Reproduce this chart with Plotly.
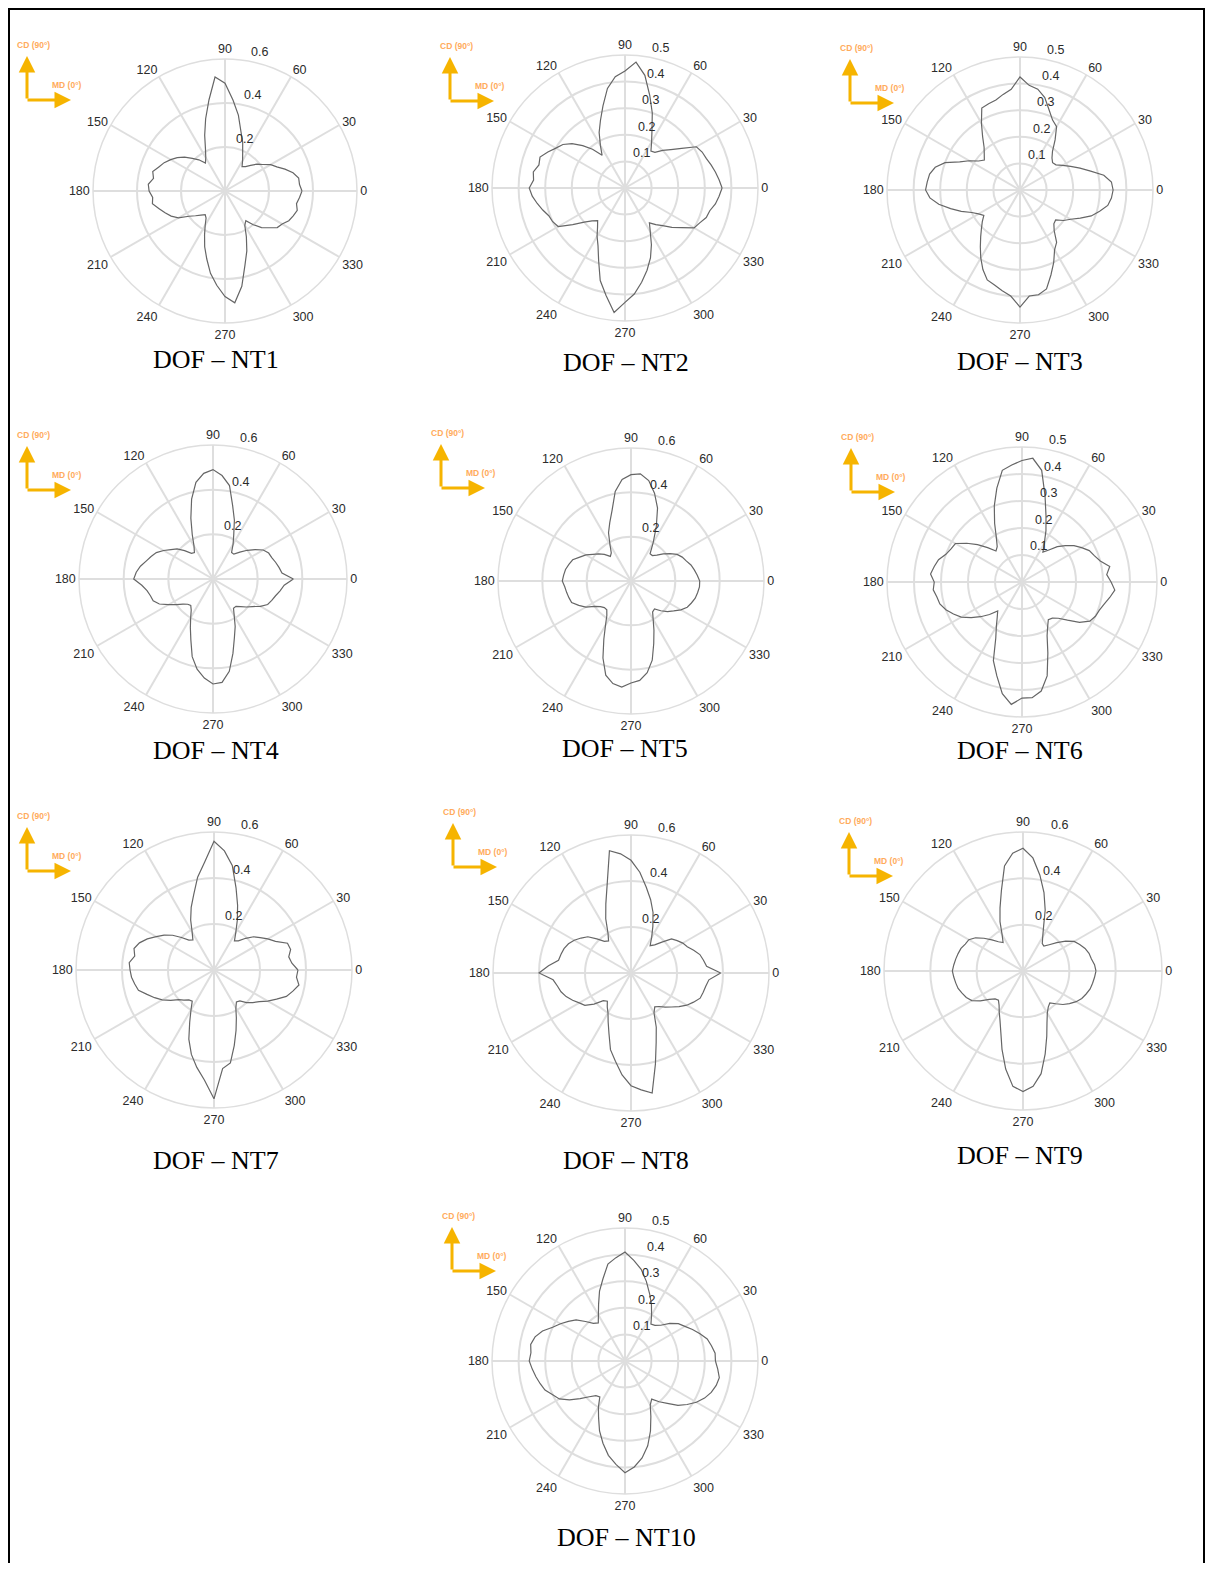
import math
import plotly.graph_objects as go

# the browser page keeps an 8px body margin, so the figure is drawn 16px smaller
W, H = 1197, 1555
OFF = 8

# angle of every reading, degrees (0 = MD, 90 = CD)
theta = list(range(0, 360, 5))

nt1 = [0.35, 0.34, 0.34, 0.32, 0.29, 0.26, 0.24, 0.21, 0.19, 0.165, 0.145, 0.135,
       0.16, 0.19, 0.235, 0.28, 0.35, 0.415, 0.49, 0.52, 0.42, 0.34, 0.27, 0.21,
       0.175, 0.155, 0.185, 0.21, 0.24, 0.265, 0.285, 0.305, 0.32, 0.34, 0.33, 0.35,
       0.345, 0.33, 0.335, 0.31, 0.29, 0.27, 0.245, 0.2, 0.175, 0.155, 0.14, 0.15,
       0.18, 0.22, 0.27, 0.32, 0.38, 0.43, 0.48, 0.51, 0.44, 0.35, 0.29, 0.23,
       0.18, 0.165, 0.2, 0.235, 0.26, 0.29, 0.3, 0.32, 0.33, 0.34, 0.33, 0.34]
nt2 = [0.365, 0.355, 0.345, 0.335, 0.325, 0.32, 0.31, 0.26, 0.225, 0.2, 0.175, 0.17,
       0.2, 0.24, 0.3, 0.36, 0.43, 0.475, 0.44, 0.42, 0.38, 0.32, 0.27, 0.23,
       0.185, 0.15, 0.19, 0.225, 0.26, 0.285, 0.3, 0.32, 0.34, 0.335, 0.35, 0.345,
       0.36, 0.35, 0.335, 0.32, 0.305, 0.3, 0.29, 0.24, 0.2, 0.175, 0.16, 0.18,
       0.21, 0.24, 0.29, 0.36, 0.41, 0.47, 0.43, 0.4, 0.36, 0.32, 0.28, 0.235,
       0.19, 0.16, 0.18, 0.2, 0.23, 0.26, 0.3, 0.31, 0.325, 0.33, 0.345, 0.355]
nt3 = [0.35, 0.345, 0.32, 0.275, 0.24, 0.21, 0.185, 0.165, 0.16, 0.17, 0.19, 0.23,
       0.275, 0.29, 0.32, 0.36, 0.385, 0.395, 0.425, 0.38, 0.365, 0.35, 0.345, 0.34,
       0.29, 0.245, 0.21, 0.19, 0.175, 0.19, 0.22, 0.25, 0.3, 0.33, 0.345, 0.35,
       0.355, 0.34, 0.31, 0.27, 0.235, 0.2, 0.18, 0.166, 0.185, 0.205, 0.23, 0.26,
       0.295, 0.33, 0.36, 0.37, 0.385, 0.4, 0.44, 0.4, 0.4, 0.385, 0.34, 0.3,
       0.26, 0.24, 0.2, 0.18, 0.175, 0.2, 0.22, 0.25, 0.285, 0.31, 0.335, 0.345]
nt4 = [0.36, 0.31, 0.3, 0.29, 0.28, 0.275, 0.26, 0.23, 0.2, 0.17, 0.145, 0.145,
       0.18, 0.22, 0.28, 0.34, 0.425, 0.465, 0.49, 0.475, 0.44, 0.37, 0.29, 0.22,
       0.17, 0.145, 0.15, 0.18, 0.21, 0.23, 0.255, 0.28, 0.295, 0.31, 0.33, 0.345,
       0.355, 0.32, 0.3, 0.29, 0.285, 0.265, 0.23, 0.2, 0.175, 0.16, 0.155, 0.17,
       0.2, 0.24, 0.29, 0.36, 0.41, 0.445, 0.47, 0.465, 0.42, 0.345, 0.28, 0.235,
       0.19, 0.16, 0.16, 0.175, 0.195, 0.215, 0.245, 0.27, 0.28, 0.29, 0.305, 0.32]
nt5 = [0.31, 0.3, 0.29, 0.28, 0.265, 0.255, 0.24, 0.215, 0.19, 0.165, 0.15, 0.15,
       0.2, 0.27, 0.35, 0.41, 0.46, 0.485, 0.48, 0.46, 0.41, 0.33, 0.28, 0.24,
       0.19, 0.155, 0.145, 0.17, 0.19, 0.21, 0.235, 0.255, 0.28, 0.29, 0.3, 0.305,
       0.31, 0.3, 0.295, 0.29, 0.285, 0.26, 0.235, 0.2, 0.18, 0.17, 0.17, 0.19,
       0.23, 0.29, 0.37, 0.44, 0.47, 0.48, 0.46, 0.45, 0.42, 0.37, 0.3, 0.245,
       0.2, 0.17, 0.165, 0.19, 0.215, 0.235, 0.26, 0.28, 0.29, 0.3, 0.305, 0.31]
nt6 = [0.33, 0.315, 0.33, 0.3, 0.285, 0.275, 0.255, 0.235, 0.21, 0.185, 0.155, 0.135,
       0.165, 0.21, 0.26, 0.33, 0.42, 0.46, 0.45, 0.435, 0.42, 0.36, 0.3, 0.24,
       0.19, 0.16, 0.15, 0.18, 0.215, 0.25, 0.285, 0.29, 0.3, 0.32, 0.33, 0.34,
       0.325, 0.33, 0.32, 0.315, 0.3, 0.28, 0.26, 0.23, 0.2, 0.17, 0.14, 0.16,
       0.19, 0.23, 0.31, 0.36, 0.42, 0.455, 0.43, 0.43, 0.41, 0.36, 0.28, 0.22,
       0.19, 0.17, 0.175, 0.19, 0.22, 0.26, 0.29, 0.3, 0.305, 0.315, 0.33, 0.345]
nt7 = [0.365, 0.34, 0.33, 0.345, 0.34, 0.295, 0.27, 0.245, 0.225, 0.195, 0.165, 0.155,
       0.19, 0.24, 0.3, 0.37, 0.46, 0.52, 0.56, 0.47, 0.41, 0.34, 0.29, 0.24,
       0.19, 0.16, 0.17, 0.2, 0.235, 0.265, 0.29, 0.32, 0.345, 0.36, 0.35, 0.37,
       0.365, 0.36, 0.35, 0.34, 0.31, 0.285, 0.26, 0.23, 0.2, 0.185, 0.17, 0.165,
       0.2, 0.25, 0.32, 0.38, 0.43, 0.48, 0.56, 0.43, 0.41, 0.34, 0.28, 0.23,
       0.19, 0.17, 0.175, 0.2, 0.22, 0.24, 0.27, 0.3, 0.335, 0.355, 0.375, 0.36]
nt8 = [0.39, 0.33, 0.32, 0.31, 0.29, 0.27, 0.26, 0.245, 0.23, 0.19, 0.16, 0.145,
       0.18, 0.225, 0.28, 0.33, 0.38, 0.44, 0.49, 0.52, 0.54, 0.4, 0.32, 0.26,
       0.2, 0.17, 0.18, 0.21, 0.245, 0.265, 0.285, 0.3, 0.31, 0.315, 0.32, 0.36,
       0.4, 0.34, 0.325, 0.315, 0.3, 0.28, 0.26, 0.245, 0.21, 0.17, 0.16, 0.18,
       0.2, 0.235, 0.28, 0.345, 0.39, 0.445, 0.49, 0.51, 0.53, 0.41, 0.32, 0.26,
       0.2, 0.18, 0.19, 0.21, 0.23, 0.255, 0.28, 0.3, 0.32, 0.325, 0.33, 0.34]
nt9 = [0.315, 0.31, 0.3, 0.295, 0.285, 0.27, 0.255, 0.225, 0.19, 0.16, 0.14, 0.145,
       0.17, 0.21, 0.28, 0.35, 0.42, 0.49, 0.53, 0.51, 0.46, 0.36, 0.29, 0.235,
       0.18, 0.15, 0.165, 0.19, 0.22, 0.25, 0.27, 0.275, 0.285, 0.29, 0.295, 0.3,
       0.305, 0.3, 0.295, 0.29, 0.28, 0.27, 0.255, 0.225, 0.19, 0.17, 0.165, 0.18,
       0.205, 0.235, 0.28, 0.35, 0.43, 0.5, 0.52, 0.5, 0.45, 0.37, 0.3, 0.245,
       0.21, 0.19, 0.18, 0.2, 0.225, 0.245, 0.265, 0.28, 0.29, 0.3, 0.305, 0.31]
nt10 = [0.34, 0.34, 0.33, 0.32, 0.3, 0.28, 0.26, 0.245, 0.22, 0.19, 0.175, 0.17,
        0.2, 0.235, 0.27, 0.31, 0.35, 0.38, 0.41, 0.39, 0.37, 0.32, 0.28, 0.235,
        0.2, 0.175, 0.185, 0.21, 0.24, 0.26, 0.28, 0.3, 0.33, 0.35, 0.36, 0.355,
        0.36, 0.35, 0.34, 0.33, 0.32, 0.3, 0.285, 0.255, 0.22, 0.19, 0.17, 0.165,
        0.2, 0.235, 0.28, 0.32, 0.36, 0.39, 0.42, 0.4, 0.37, 0.33, 0.28, 0.23,
        0.19, 0.175, 0.2, 0.225, 0.26, 0.285, 0.31, 0.33, 0.345, 0.355, 0.36, 0.35]

names = ["NT1", "NT2", "NT3", "NT4", "NT5", "NT6", "NT7", "NT8", "NT9", "NT10"]
series = [nt1, nt2, nt3, nt4, nt5, nt6, nt7, nt8, nt9, nt10]
rmax = [0.6, 0.5, 0.5, 0.6, 0.6, 0.5, 0.6, 0.6, 0.6, 0.5]
ang_ticks = list(range(0, 360, 30))

# panel centre (px), plot radius (px), caption centre (px), arrow corner (px)
panels = [
    (225, 191, 132, 216, 360, 27, 100),
    (625, 188, 133, 626, 362, 450, 101),
    (1020, 190, 133, 1020, 361, 850, 103),
    (213, 579, 134, 216, 750, 27, 490),
    (631, 581, 133, 625, 748, 441, 488),
    (1022, 582, 135, 1020, 750, 851, 492),
    (214, 970, 138, 216, 1160, 27, 871),
    (631, 973, 138, 626, 1160, 453, 867),
    (1023, 971, 139, 1020, 1155, 849, 876),
    (625, 1361, 133, 626, 1537, 452, 1271),
]

GRID = "#dedede"
TXT = "#2b2b2b"
ARROW = "#f6b400"
ARROW_TXT = "#ffab5c"
SANS = "Liberation Sans, Arial"
SERIF = "Liberation Serif, Times New Roman"
LABEL_ANGLE = math.radians(80)


def px_x(v):
    return (v - OFF) / W


def px_y(v):
    return 1 - (v - OFF) / H


def label(x, y, text, size, color, family):
    return dict(x=px_x(x), y=px_y(y), xref="paper", yref="paper",
                xanchor="center", yanchor="middle", text=text, showarrow=False,
                font=dict(family=family, size=size, color=color))


def arrow(x, y, ax, ay):
    return dict(x=px_x(x), y=px_y(y), xref="paper", yref="paper",
                text="", showarrow=True, ax=ax, ay=ay,
                arrowhead=2, arrowsize=1.1, arrowwidth=3, arrowcolor=ARROW)


fig = go.Figure()
layout = {}
annotations = []

for i, (name, r, top) in enumerate(zip(names, series, rmax)):
    key = "polar" if i == 0 else "polar%d" % (i + 1)
    cx, cy, rad, cap_x, cap_y, bx, by = panels[i]
    step = 0.2 if top == 0.6 else 0.1
    ticks = [round(step * k, 1) for k in range(1, int(round(top / step)) + 1)]

    fig.add_trace(go.Scatterpolar(
        r=r + [r[0]], theta=theta + [theta[0]],
        mode="lines", line=dict(color="#666666", width=1.2),
        subplot=key, showlegend=False,
    ))

    layout[key] = dict(
        domain=dict(x=[px_x(cx - rad), px_x(cx + rad)],
                    y=[px_y(cy + rad), px_y(cy - rad)]),
        bgcolor="white",
        angularaxis=dict(
            rotation=0, direction="counterclockwise",
            tickmode="array", tickvals=ang_ticks,
            ticktext=[str(a) for a in ang_ticks],
            showline=True, linecolor=GRID, linewidth=1.5,
            gridcolor=GRID, gridwidth=1.5, ticks="",
            tickfont=dict(family=SANS, size=12.5, color=TXT),
        ),
        radialaxis=dict(
            range=[0, top], tickvals=ticks, showticklabels=False,
            angle=80, showline=False, ticks="",
            gridcolor=GRID, gridwidth=1.5,
        ),
    )

    # radial tick labels sit just outside their ring, right of the 80 deg spoke
    for t in ticks:
        d = t / top * rad
        annotations.append(label(cx + d * math.cos(LABEL_ANGLE) + 12,
                                 cy - d * math.sin(LABEL_ANGLE) - 9,
                                 str(t), 12.5, TXT, SANS))

    annotations.append(label(cap_x, cap_y, "DOF \u2013 " + name, 26, "black", SERIF))
    # CD / MD orientation arrows
    annotations.append(arrow(bx, by - 44, 0, 44))
    annotations.append(arrow(bx + 44, by, -45, 0))
    annotations.append(label(bx + 6, by - 55, "<b>CD (90°)</b>", 8.5, ARROW_TXT, SANS))
    annotations.append(label(bx + 40, by - 15, "<b>MD (0°)</b>", 8.5, ARROW_TXT, SANS))

fig.update_layout(
    width=W, height=H,
    margin=dict(l=0, r=0, t=0, b=0),
    paper_bgcolor="white",
    annotations=annotations,
    shapes=[dict(type="rect", xref="paper", yref="paper",
                 x0=px_x(9), x1=px_x(1204), y0=px_y(1575), y1=px_y(9),
                 line=dict(color="black", width=2))],
    **layout,
)

fig.write_html("out.html")
